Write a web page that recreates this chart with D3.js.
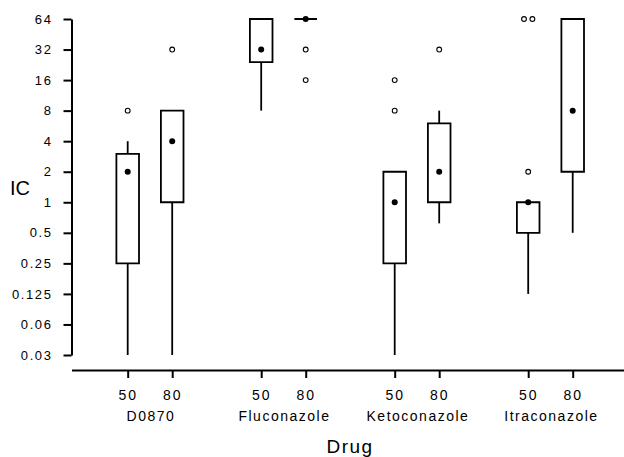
<!DOCTYPE html>
<html>
<head>
<meta charset="utf-8">
<script src="https://cdn.jsdelivr.net/npm/d3@7"></script>
<style>
  html, body { margin: 0; padding: 0; background: #fff; }
  svg { display: block; font-family: "Liberation Sans", Arial, sans-serif; }
</style>
</head>
<body>
<svg id="svg" width="624" height="457"></svg>
<script>
// chart data
const drugs = ["D0870", "Fluconazole", "Ketoconazole", "Itraconazole"];
const doses = ["50", "80"];
const slots = [0, 1, 3, 4, 6, 7, 9, 10]; // box positions: drug x dose
const medians = [2, 4, 32, 64, 1, 2, 1, 8];
const q1 = [0.25, 1, 24, 64, 0.25, 1, 0.5, 2];
const q3 = [3, 8, 64, 64, 2, 6, 1, 64];
const whiskLo = [0.03125, 0.03125, 8, 64, 0.03125, 0.62, 0.125, 0.5];
const whiskHi = [4, 8, 64, 64, 2, 8, 1, 64];
const outliers = [[8], [32], [], [32, 16], [16, 8], [32], [2, 64, 64], []];
const yTicks = [1/32, 1/16, 0.125, 0.25, 0.5, 1, 2, 4, 8, 16, 32, 64];
const yLabels = ["0.03", "0.06", "0.125", "0.25", "0.5", "1", "2", "4", "8", "16", "32", "64"];

const svg = d3.select("#svg");

// scales
const y = d3.scaleLog().base(2).domain([1/32, 64]).range([355, 19]);
const x = d3.scaleLinear().domain([0, 10]).range([127.7, 572.7]);
const xAx = x.copy().domain([x.invert(71.5), x.invert(624)]).range([71.5, 624]);
const halfW = 11.3;

// y axis
const yAxisG = svg.append("g").attr("transform", "translate(71.5,0)")
  .call(d3.axisLeft(y).tickValues(yTicks).tickFormat((d, i) => yLabels[i])
    .tickSize(8).tickSizeOuter(0).tickPadding(11));
yAxisG.selectAll("path, line").attr("stroke", "#000").attr("stroke-width", 2);
yAxisG.selectAll("text").attr("font-size", 13).attr("letter-spacing", "1.6px")
  .attr("fill", "#000").attr("font-family", null);

// x axis
const xAxisG = svg.append("g").attr("transform", "translate(0,370)")
  .call(d3.axisBottom(xAx).tickValues(slots).tickFormat((d, i) => doses[i % 2])
    .tickSize(8).tickSizeOuter(0).tickPadding(12));
xAxisG.selectAll("path, line").attr("stroke", "#000").attr("stroke-width", 2);
xAxisG.selectAll("text").attr("font-size", 14).attr("letter-spacing", "2px")
  .attr("fill", "#000").attr("font-family", null);

// drug names under the dose labels
svg.append("g").selectAll("text").data(drugs).join("text")
  .attr("x", (d, i) => (x(slots[2 * i]) + x(slots[2 * i + 1])) / 2 + 1)
  .attr("y", 420.5)
  .attr("text-anchor", "middle")
  .attr("font-size", 14).attr("letter-spacing", "1.5px")
  .text(d => d);

// axis titles
svg.append("text").attr("x", 10).attr("y", 195).attr("font-size", 20).text("IC");
svg.append("text").attr("x", 350).attr("y", 453).attr("text-anchor", "middle")
  .attr("font-size", 19).attr("letter-spacing", "1.5px").text("Drug");

// boxes
const boxes = svg.append("g").selectAll("g").data(slots).join("g");

boxes.append("line")
  .attr("x1", d => x(d)).attr("x2", d => x(d))
  .attr("y1", (d, i) => y(whiskLo[i])).attr("y2", (d, i) => y(q1[i]))
  .attr("stroke", "#000").attr("stroke-width", 1.8);
boxes.append("line")
  .attr("x1", d => x(d)).attr("x2", d => x(d))
  .attr("y1", (d, i) => y(q3[i])).attr("y2", (d, i) => y(whiskHi[i]))
  .attr("stroke", "#000").attr("stroke-width", 1.8);
boxes.append("path")
  .attr("d", (d, i) => {
    const cx = x(d), t = y(q3[i]), b = y(q1[i]);
    return `M${cx - halfW},${t}H${cx + halfW}V${b}H${cx - halfW}Z`;
  })
  .attr("fill", "none").attr("stroke", "#000").attr("stroke-width", 1.8);
boxes.append("circle")
  .attr("cx", d => x(d)).attr("cy", (d, i) => y(medians[i]))
  .attr("r", 3).attr("fill", "#000");

// outliers, side by side when values repeat
boxes.each(function (d, i) {
  const vals = outliers[i];
  const pts = vals.map((v, k) => {
    const same = vals.filter(w => w === v);
    const idx = vals.slice(0, k).filter(w => w === v).length;
    return {v: v, dx: (idx - (same.length - 1) / 2) * 8.4};
  });
  d3.select(this).selectAll("circle.out").data(pts).join("circle")
    .attr("class", "out")
    .attr("cx", p => x(d) + p.dx).attr("cy", p => y(p.v))
    .attr("r", 2.4).attr("fill", "#fff").attr("stroke", "#000").attr("stroke-width", 1.1);
});
</script>
</body>
</html>
